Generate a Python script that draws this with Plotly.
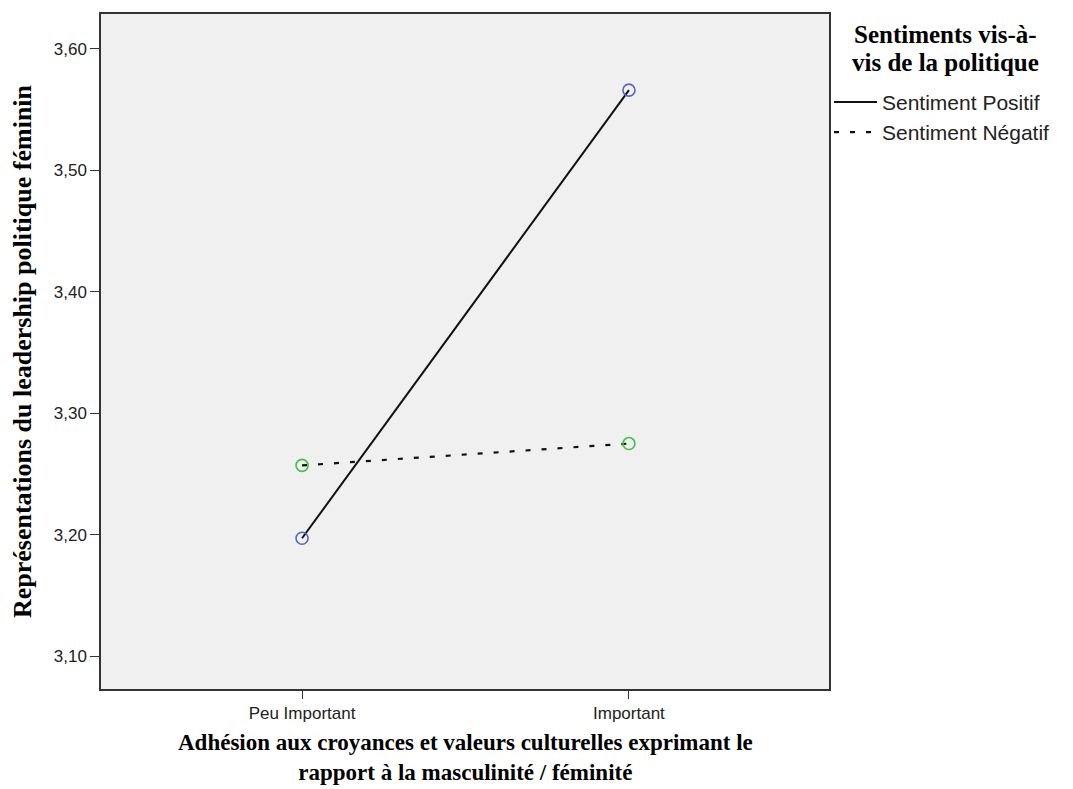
import plotly.graph_objects as go

categories = ["Peu Important", "Important"]
positif = [3.197, 3.566]
negatif = [3.257, 3.275]
y_ticks = [3.10, 3.20, 3.30, 3.40, 3.50, 3.60]
x_title = "Adhésion aux croyances et valeurs culturelles exprimant le<br>rapport à la masculinité / féminité"
legend_title = ["Sentiments vis-à-", "vis de la politique"]

fig = go.Figure()

# lines (these are what the legend shows)
fig.add_trace(go.Scatter(x=[0, 1], y=positif, mode="lines", name="Sentiment Positif",
                         line=dict(color="#111", width=2)))
fig.add_trace(go.Scatter(x=[0, 1], y=negatif, mode="lines", name="Sentiment Négatif",
                         line=dict(color="#111", width=2.2, dash="5px,11px")))

# open circle markers at the cell means
fig.add_trace(go.Scatter(x=[0, 1], y=positif, mode="markers", showlegend=False,
                         marker=dict(symbol="circle-open", size=12, color="#5068c8", line=dict(width=1.6))))
fig.add_trace(go.Scatter(x=[0, 1], y=negatif, mode="markers", showlegend=False,
                         marker=dict(symbol="circle-open", size=12, color="#3ec43e", line=dict(width=1.6))))

# page body has an 8px margin, so the figure is shrunk by that much
fig.update_layout(
    width=1065, height=781,
    margin=dict(l=93, r=244, t=4, b=100),
    plot_bgcolor="#f0f0f0", paper_bgcolor="white",
    separators=", ",
    font=dict(family="Liberation Sans, Arial", color="black"),
    legend=dict(
        x=1.0, xanchor="left", y=0.8996, yanchor="top",
        font=dict(size=21, color="#222"), bgcolor="rgba(0,0,0,0)",
        itemwidth=43, tracegroupgap=0,
    ),
    showlegend=True,
)

serif_bold = dict(family="Liberation Serif", color="black")
fig.add_annotation(text=f"<b>{x_title}</b>", xref="paper", yref="paper", x=0.5, y=-0.1012,
                   xanchor="center", yanchor="middle", showarrow=False,
                   font=dict(size=23, **serif_bold))
# legend title set line by line to keep the tight spacing of the original
for txt, yy in zip(legend_title, [0.969, 0.928]):
    fig.add_annotation(text=f"<b>{txt}</b>", xref="paper", yref="paper", x=1.160, y=yy,
                       xanchor="center", yanchor="middle", showarrow=False,
                       font=dict(size=25, **serif_bold))

fig.update_xaxes(
    tickmode="array", tickvals=[0, 1], ticktext=categories,
    range=[-0.615, 1.612], showgrid=False, zeroline=False,
    showline=True, linecolor="#333", linewidth=1.5, mirror=True,
    ticks="outside", ticklen=8, tickcolor="#333",
    tickfont=dict(size=17, color="#222"),
)
fig.update_yaxes(
    tickmode="array", tickvals=y_ticks, tickformat=".2f",
    range=[3.0729, 3.6287], showgrid=False, zeroline=False,
    showline=True, linecolor="#333", linewidth=1.5, mirror=True,
    ticks="outside", ticklen=9, tickcolor="#333",
    tickfont=dict(size=17, color="#222"),
    title=dict(text="<b>Représentations du leadership politique féminin</b>",
               font=dict(size=26, **serif_bold), standoff=16),
)

fig.write_html("out.html")
